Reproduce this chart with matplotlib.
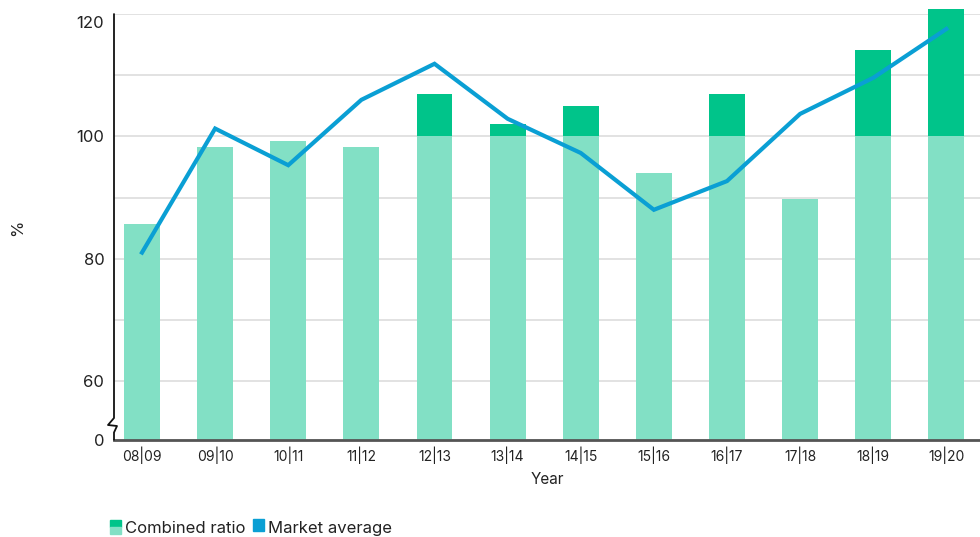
import matplotlib.pyplot as plt
from matplotlib.patches import Rectangle
from matplotlib.transforms import ScaledTranslation
import numpy as np

years = ['08|09', '09|10', '10|11', '11|12', '12|13', '13|14',
         '14|15', '15|16', '16|17', '17|18', '18|19', '19|20']
combined_ratio = [85.6, 98.3, 99.2, 98.3, 106.9, 102.0,
                  105.0, 94.0, 106.9, 89.7, 114.1, 120.9]
market_average = [81.0, 101.3, 95.3, 106.0, 111.9, 102.9,
                  97.3, 88.0, 92.7, 103.7, 109.6, 117.6]

light_green = '#82e0c5'
dark_green = '#00c48a'
blue = '#0a9fd4'

plt.rcParams['font.family'] = ['Inter', 'DejaVu Sans']

fig = plt.figure(figsize=(9.8, 5.37), dpi=100)
ax = fig.add_axes([114 / 980, 1 - 439.5 / 537, 1 - 114 / 980, (439.5 - 14.3) / 537])

y_bottom = 50.4
x = np.arange(len(years))
cr = np.array(combined_ratio)
base = np.minimum(cr, 100) - y_bottom
excess = np.clip(cr - 100, 0, None)

ax.bar(x, base, bottom=y_bottom, width=0.49, color=light_green, zorder=2, clip_on=False)
ax.bar(x, excess, bottom=100, width=0.49, color=dark_green, zorder=2, clip_on=False)
ax.plot(x, market_average, color=blue, lw=3, zorder=3, solid_joinstyle='miter', clip_on=False)

ax.set_xlim(-0.383, 11.46)
ax.set_ylim(y_bottom, 120)
ax.set_yticks([y_bottom, 60, 80, 100, 120])
ax.set_yticklabels(['0', '60', '80', '100', '120'])
ax.set_yticks([70, 90, 110], minor=True)
ax.grid(axis='y', which='both', color='#dddddd', lw=1.2, zorder=0)
ax.tick_params(axis='y', which='both', length=0, pad=7, labelsize=12, labelcolor='#222222')
ax.tick_params(axis='x', length=0, pad=5, labelsize=10, labelcolor='#222222')
ax.set_xticks(x)
ax.set_xticklabels(years)

# top label sits a little below its gridline
top_lbl = ax.get_yticklabels()[-1]
top_lbl.set_transform(top_lbl.get_transform() + ScaledTranslation(0, -8 / 100, fig.dpi_scale_trans))

for s in ['top', 'right', 'left']:
    ax.spines[s].set_visible(False)
ax.spines['bottom'].set_color('#555555')
ax.spines['bottom'].set_linewidth(2)

# left axis with break mark (drawn in pixel offsets from the axes corner)
h = 439.5 - 14.3
px = [0, 0, -6, 3, 0, 0]
py = [h, 21.5, 14.5, 13.5, 7, 0]
ax.plot(np.array(px) / 866, np.array(py) / h, transform=ax.transAxes,
        color='#111111', lw=1.3, clip_on=False, zorder=4)

ax.set_xlabel('Year', fontsize=11, labelpad=6, color='#222222')
fig.text(18 / 980, 1 - 228 / 537, '%', rotation=90, fontsize=12,
         ha='center', va='center', color='#222222')

# legend
fig.add_artist(Rectangle((110 / 980, 1 - 527 / 537), 11 / 980, 7 / 537,
                         transform=fig.transFigure, color=dark_green))
fig.add_artist(Rectangle((110 / 980, 1 - 534 / 537), 11 / 980, 7 / 537,
                         transform=fig.transFigure, color=light_green))
fig.text(125 / 980, 1 - 528.5 / 537, 'Combined ratio', fontsize=12,
         va='center', color='#222222')
fig.add_artist(Rectangle((253 / 980, 1 - 531 / 537), 11 / 980, 12 / 537,
                         transform=fig.transFigure, color=blue))
fig.text(268 / 980, 1 - 528.5 / 537, 'Market average', fontsize=12,
         va='center', color='#222222')

fig.savefig('out.png', dpi=100)
